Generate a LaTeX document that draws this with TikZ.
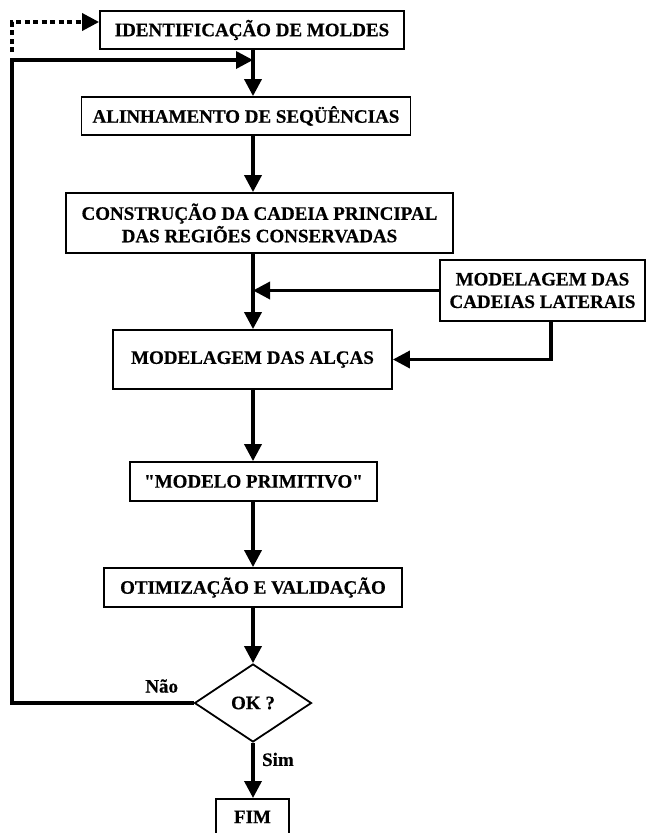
\documentclass[tikz,border=0pt]{standalone}
\usepackage{fontspec}
\setmainfont{Liberation Serif}[Ligatures=TeXOff, BoldFeatures={FakeBold=0.5}]
\usetikzlibrary{arrows.meta,shapes.geometric}

\tikzset{
    caixa/.style={draw, rectangle, line width=1.8pt, align=center, inner sep=0pt},
    fluxo/.style={line width=3.5pt, -{Triangle[length=17pt,width=17pt]}},
    pontilhado/.style={line width=3.5pt, dash pattern=on 5pt off 3.5pt, -{Triangle[length=17pt,width=17pt]}},
}

\begin{document}
\begin{tikzpicture}[x=1pt, y=-1pt, font=\fontsize{19}{22.5}\selectfont\bfseries]
    \useasboundingbox (0,0) rectangle (646,833);

    \draw
    (252,30)node[caixa, minimum width=304pt, minimum height=38pt](ident){IDENTIFICAÇÃO DE MOLDES}
    (246,116)node[caixa, minimum width=329pt, minimum height=38pt](alin){ALINHAMENTO DE SEQÜÊNCIAS}
    (259.5,223)node[caixa, minimum width=387pt, minimum height=60pt](constr){CONSTRUÇÃO DA CADEIA PRINCIPAL\\DAS REGIÕES CONSERVADAS}
    (542.5,290.5)node[caixa, minimum width=205pt, minimum height=61pt](lateral){MODELAGEM DAS\\CADEIAS LATERAIS}
    (252.5,359.5)node[caixa, minimum width=279pt, minimum height=59pt](alcas){MODELAGEM DAS ALÇAS}
    (253.5,481.5)node[caixa, minimum width=247pt, minimum height=39pt](primit){"MODELO PRIMITIVO"}
    (253,587.5)node[caixa, minimum width=298pt, minimum height=39pt](otim){OTIMIZAÇÃO E VALIDAÇÃO}
    (253,703)node[draw, diamond, line width=1.8pt, inner sep=0pt, minimum width=117pt, minimum height=78pt](ok){OK ?}
    (252.5,798)node[caixa, minimum width=73pt, minimum height=36pt, anchor=north](fim){FIM}
    ;

    % eixo central e volta pela esquerda
    \coordinate (eixo) at (253,0);
    \coordinate (volta) at (12,60);
    \coordinate (pont) at (12,22);

    \draw[fluxo] (ident.south -| eixo) -- (alin.north -| eixo);
    \draw[fluxo] (alin.south -| eixo) -- (constr.north -| eixo);
    \draw[fluxo] (constr.south -| eixo) -- (alcas.north -| eixo);
    \draw[fluxo] (alcas.south -| eixo) -- (primit.north -| eixo);
    \draw[fluxo] (primit.south -| eixo) -- (otim.north -| eixo);
    \draw[fluxo] (otim.south -| eixo) -- (ok.north);
    \draw[fluxo] (ok.south) -- (fim.north -| ok.south) node[pos=0.3, right=4pt]{Sim};

    \draw[fluxo] (lateral.west) -- (lateral.west -| eixo);
    \draw[fluxo] ([xshift=8.5pt]lateral.south) |- (alcas.east);

    \draw[fluxo] (ok.west) -| (volta) -- (volta -| eixo);
    \draw[pontilhado] (volta) ++(0,-8) -- (pont) -- (pont -| ident.west);

    \node (nao) at (161.7,686) {Não};
\end{tikzpicture}
\end{document}
